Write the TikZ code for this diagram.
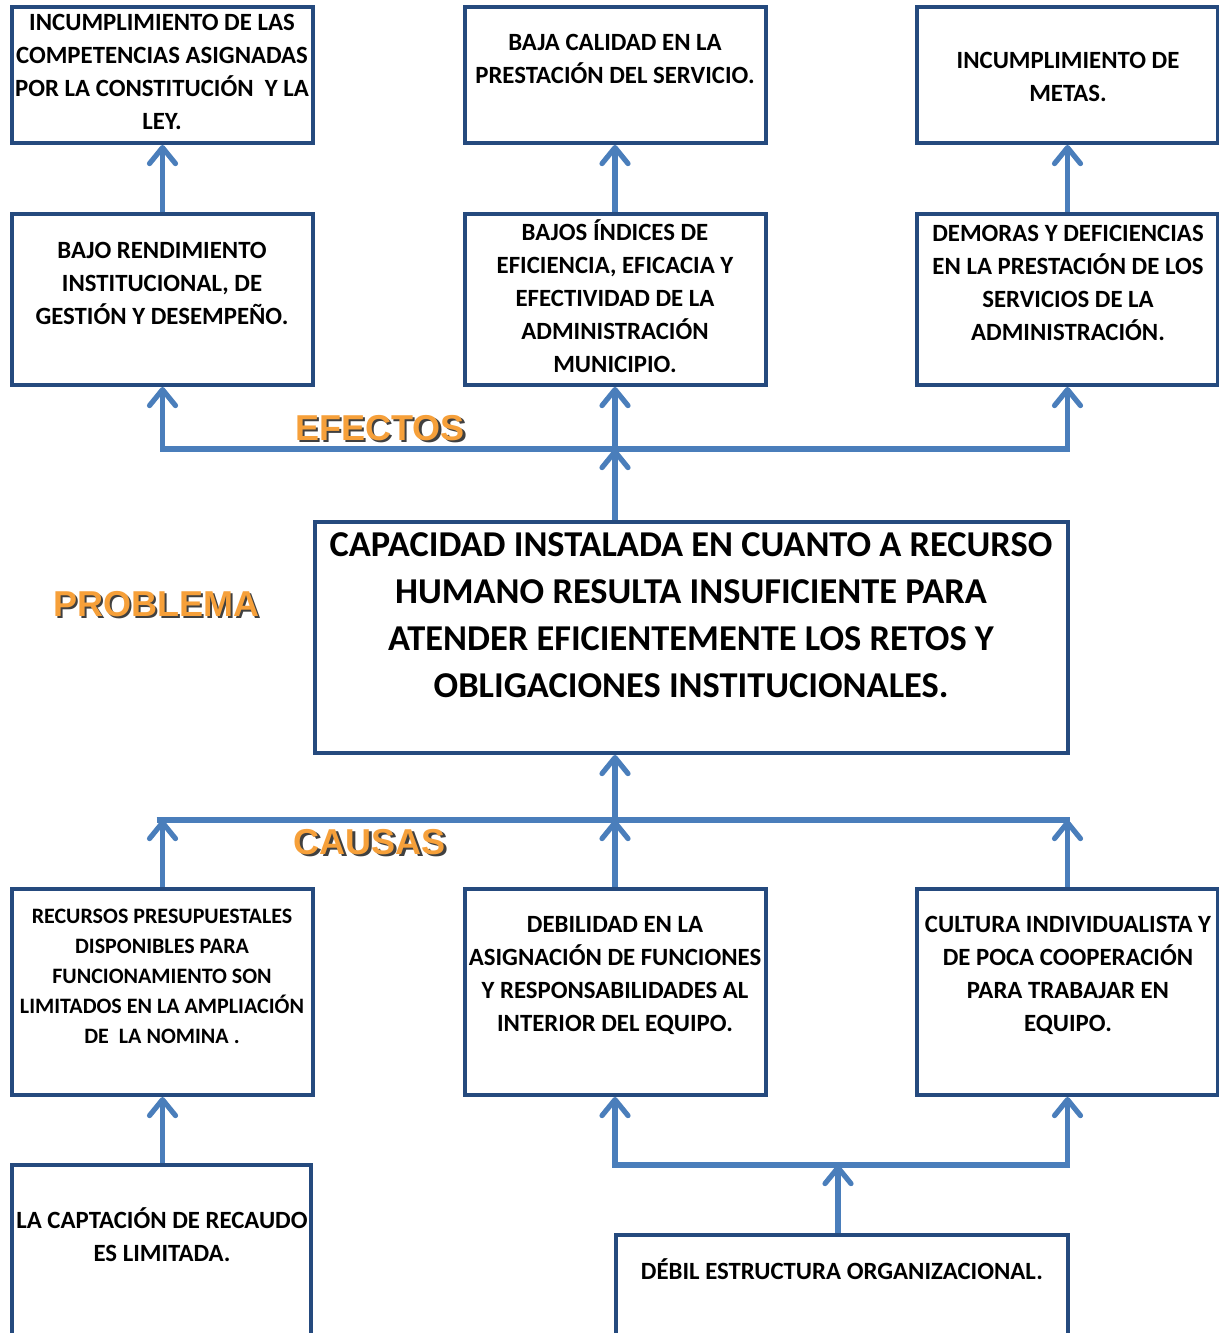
\documentclass[tikz,border=0pt]{standalone}
\usepackage{fontspec}
\setmainfont{Carlito}
\newfontfamily\tagfont{Liberation Sans}
\usetikzlibrary{arrows.meta, positioning, calc}
\definecolor{arbolnavy}{HTML}{254A7E}
\definecolor{arbolblue}{HTML}{4A7EBB}
\definecolor{arbolorange}{HTML}{F6A03A}
\tikzset{
  >={Straight Barb[length=8pt, width=13pt, line cap=round, line join=round]},
  box/.style={rectangle, draw=arbolnavy, line width=2pt, fill=white,
              minimum width=150.5pt, minimum height=68pt, inner sep=0pt},
  boxm/.style={box, minimum height=85.5pt},
  boxc/.style={box, minimum height=103pt},
  txt/.style={align=center, inner sep=0pt, font=\fontsize{12.4}{16.5}\selectfont\bfseries},
  txts/.style={txt, font=\fontsize{11}{15}\selectfont\bfseries},
  txtb/.style={txt, font=\fontsize{18.2}{23.5}\selectfont\bfseries},
  link/.style={draw=arbolblue, line width=2.6pt},
  arr/.style={link, ->},
  tag/.style={inner sep=0pt, text=arbolorange, font=\tagfont\fontsize{18}{20}\selectfont\bfseries},
  tagshadow/.style={tag, text=black!75, xshift=1.2pt, yshift=-1.2pt},
}

\begin{document}
\begin{tikzpicture}[x=0.5pt, y=-0.5pt]
  \useasboundingbox (0,0) rectangle (1219,1333);

  % efectos, fila de arriba
  \node[box] (ef1top) at (162.5,75) {};
  \node[box] (ef2top) at (615,75) {};
  \node[box] (ef3top) at (1067.5,75) {};
  \node[txt] (ef1topt) at (162,72) {INCUMPLIMIENTO DE LAS\\COMPETENCIAS ASIGNADAS\\POR LA CONSTITUCIÓN~ Y LA\\LEY.};
  \node[txt] (ef2topt) at (615,58.5) {BAJA CALIDAD EN LA\\PRESTACIÓN DEL SERVICIO.};
  \node[txt] (ef3topt) at (1068,76.5) {INCUMPLIMIENTO DE\\METAS.};

  % efectos directos
  \node[boxm] (ef1) at (162.5,299.5) {};
  \node[boxm] (ef2) at (615,299.5) {};
  \node[boxm] (ef3) at (1067.5,299.5) {};
  \node[txt] (ef1t) at (162,283) {BAJO RENDIMIENTO\\INSTITUCIONAL, DE\\GESTIÓN Y DESEMPEÑO.};
  \node[txt] (ef2t) at (615,296) {BAJOS ÍNDICES DE\\EFICIENCIA, EFICACIA Y\\EFECTIVIDAD DE LA\\ADMINISTRACIÓN\\MUNICIPIO.};
  \node[txt] (ef3t) at (1068,283) {DEMORAS Y DEFICIENCIAS\\EN LA PRESTACIÓN DE LOS\\SERVICIOS DE LA\\ADMINISTRACIÓN.};

  \foreach \e in {ef1,ef2,ef3}{ \draw[arr] (\e.north) -- (\e top.south); }

  % problema central
  \node[box, minimum width=376.5pt, minimum height=115.5pt] (prob) at (691.5,637.5) {};
  \node[txtb] (probt) at (691,615) {CAPACIDAD INSTALADA EN CUANTO A RECURSO\\HUMANO RESULTA INSUFICIENTE PARA\\ATENDER EFICIENTEMENTE LOS RETOS Y\\OBLIGACIONES INSTITUCIONALES.};

  \coordinate (efbus) at (615,449);
  \draw[arr] (prob.north -| efbus) -- (efbus);
  \draw[arr] (efbus) -| (ef1.south);
  \draw[arr] (efbus) -| (ef3.south);
  \draw[arr] (efbus) -- (ef2.south);

  % causas
  \node[boxc] (ca1) at (162.5,992) {};
  \node[boxc] (ca2) at (615,992) {};
  \node[boxc] (ca3) at (1067.5,992) {};
  \node[txts] (ca1t) at (162,976) {RECURSOS PRESUPUESTALES\\DISPONIBLES PARA\\FUNCIONAMIENTO SON\\LIMITADOS EN LA AMPLIACIÓN\\DE~~LA NOMINA .};
  \node[txt] (ca2t) at (615,975.5) {DEBILIDAD EN LA\\ASIGNACIÓN DE FUNCIONES\\Y RESPONSABILIDADES AL\\INTERIOR DEL EQUIPO.};
  \node[txt] (ca3t) at (1068,975.5) {CULTURA INDIVIDUALISTA Y\\DE POCA COOPERACIÓN\\PARA TRABAJAR EN\\EQUIPO.};

  \coordinate (cabus) at (615,820);
  \draw[link] ([xshift=-3pt]ca1.north |- cabus) -- ([xshift=1pt]ca3.north |- cabus);
  \foreach \c in {ca1,ca2,ca3}{ \draw[arr] (\c.north) -- (\c.north |- cabus); }
  \draw[arr] (cabus) -- (prob.south -| cabus);

  % causas de fondo
  \node[box, minimum width=149.5pt, minimum height=90pt] (lo1) at (161.5,1255) {};
  \node[box, minimum width=226pt, minimum height=55pt] (lo2) at (842,1290) {};
  \node[txt] (lo1t) at (162,1234.5) {LA CAPTACIÓN DE RECAUDO\\ES LIMITADA.};
  \node[txt] (lo2t) at (842,1269) {DÉBIL ESTRUCTURA ORGANIZACIONAL.};

  \draw[arr] (lo1.north -| ca1.south) -- (ca1.south);
  \coordinate (lobus) at (838,1165);
  \draw[arr] (lo2.north -| lobus) -- (lobus);
  \draw[arr] (lobus) -| (ca2.south);
  \draw[arr] (lobus) -| (ca3.south);

  % rotulos
  \node[tagshadow] (efectoss) at (380,428) {EFECTOS};
  \node[tag] (efectos) at (380,428) {EFECTOS};
  \node[tagshadow] (problemas) at (156,604) {PROBLEMA};
  \node[tag] (problema) at (156,604) {PROBLEMA};
  \node[tagshadow] (causass) at (370,842) {CAUSAS};
  \node[tag] (causas) at (370,842) {CAUSAS};
\end{tikzpicture}
\end{document}
